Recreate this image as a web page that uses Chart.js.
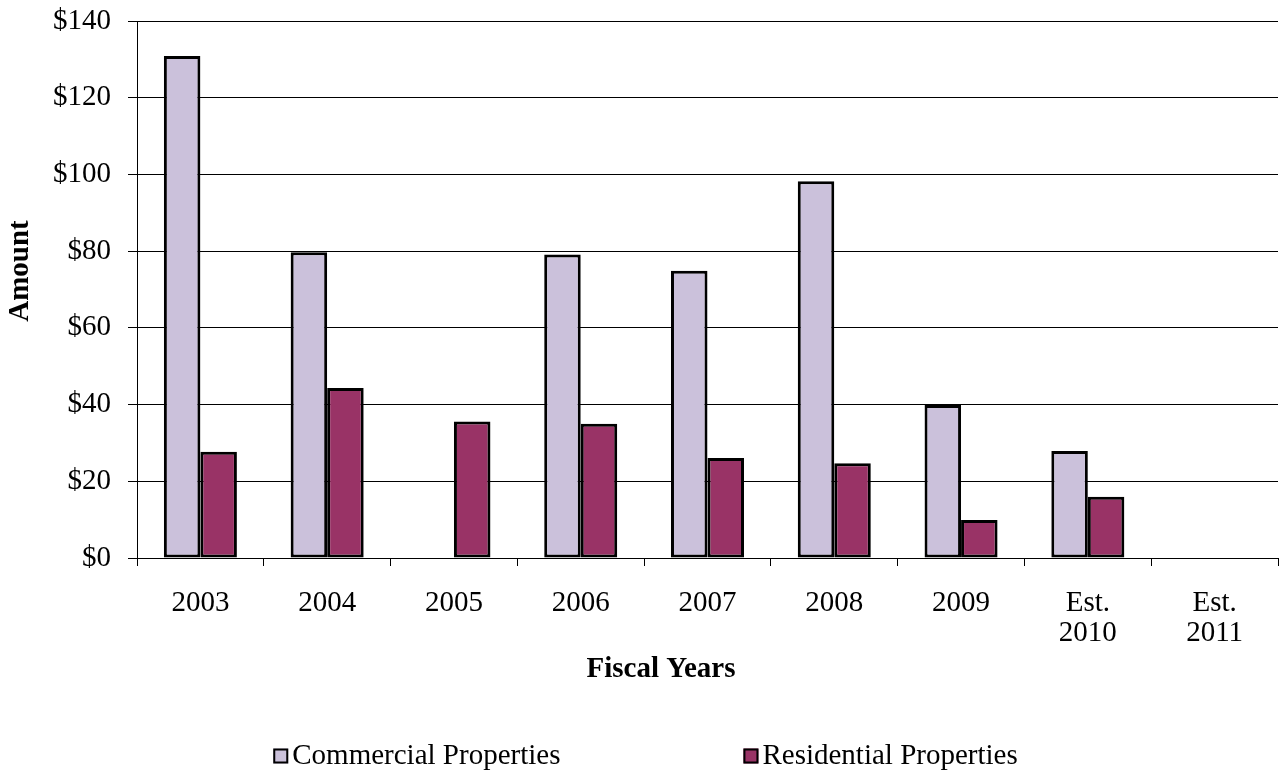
<!DOCTYPE html>
<html>
<head>
<meta charset="utf-8">
<script src="https://cdn.jsdelivr.net/npm/chart.js@4.4.1/dist/chart.umd.min.js"></script>
<style>
  html, body { margin: 0; padding: 0; background: #ffffff; }
  #wrap { width: 1280px; height: 773px; }
</style>
</head>
<body>
<div id="wrap"><canvas id="c" width="1280" height="773"></canvas></div>
<script>
// ---- data ----
const categories = ["2003", "2004", "2005", "2006", "2007", "2008", "2009", ["Est.", "2010"], ["Est.", "2011"]];
const commercial = [130.9, 79.7, 0, 79.1, 74.9, 98.2, 39.9, 27.9, 0];
const residential = [27.7, 44.3, 35.6, 35.0, 26.1, 24.7, 9.9, 16.0, 0];
const seriesNames = ["Commercial Properties", "Residential Properties"];
const yTicks = [0, 20, 40, 60, 80, 100, 120, 140];
const xTitle = "Fiscal Years";
const yTitle = "Amount";

const FONT = "'Liberation Serif', 'Times New Roman', serif";
const FS = 29;

const extraText = {
  id: 'extraText',
  afterDraw(chart) {
    const ctx = chart.ctx;
    ctx.save();
    ctx.fillStyle = '#000';
    // y title
    ctx.font = `bold ${FS}px ${FONT}`;
    ctx.textAlign = 'center';
    ctx.textBaseline = 'middle';
    ctx.save();
    ctx.translate(21, 271);
    ctx.rotate(-Math.PI / 2);
    ctx.fillText(yTitle, 0, 0);
    ctx.restore();
    // x title
    ctx.fillText(xTitle, 661, 670);
    // legend
    ctx.font = `${FS}px ${FONT}`;
    ctx.textAlign = 'left';
    const ds = chart.data.datasets;
    const box = 15, gapBT = 4, gapItems = 183, ly = 756;
    const widths = ds.map(d => box + gapBT + ctx.measureText(d.label).width);
    const total = widths.reduce((a, b) => a + b, 0) + gapItems * (ds.length - 1);
    let x = 645.5 - total / 2;
    ds.forEach((d, i) => {
      ctx.fillStyle = d.backgroundColor;
      ctx.fillRect(x, ly - box / 2, box, box);
      ctx.strokeStyle = '#000';
      ctx.lineWidth = 2;
      ctx.strokeRect(x + 1, ly - box / 2 + 1, box - 2, box - 2);
      ctx.fillStyle = '#000';
      ctx.fillText(d.label, x + box + gapBT, ly);
      x += widths[i] + gapItems;
    });
    ctx.restore();
  }
};

new Chart(document.getElementById('c'), {
  type: 'bar',
  data: {
    labels: categories,
    datasets: [
      { label: seriesNames[0], data: commercial, backgroundColor: '#CBC1DB', borderColor: '#000', borderWidth: 3, borderSkipped: false },
      { label: seriesNames[1], data: residential, backgroundColor: '#993366', borderColor: '#000', borderWidth: 3, borderSkipped: false }
    ]
  },
  options: {
    responsive: false,
    animation: false,
    devicePixelRatio: 1,
    categoryPercentage: 0.576,
    barPercentage: 1.0,
    layout: { padding: { top: 21, right: 2, bottom: 0, left: 0 } },
    plugins: { legend: { display: false }, tooltip: { enabled: false } },
    scales: {
      x: {
        afterFit(scale) { scale.height = 215; scale.paddingLeft = 0; scale.paddingRight = 0; },
        grid: { display: true, drawOnChartArea: false, drawTicks: true, tickLength: 8, color: '#000', lineWidth: 1, offset: true },
        border: { display: true, color: '#000', width: 1 },
        ticks: { color: '#000', font: { family: FONT, size: FS, lineHeight: 30 / FS }, padding: 22, maxRotation: 0, autoSkip: false }
      },
      y: {
        min: 0, max: 140,
        afterFit(scale) { scale.width = 137; scale.paddingTop = 0; scale.paddingBottom = 0; },
        afterBuildTicks(scale) { scale.ticks = yTicks.map(v => ({ value: v })); },
        grid: { color: '#000', lineWidth: 1, tickLength: 9, drawTicks: true },
        border: { display: true, color: '#000', width: 1 },
        ticks: { color: '#000', font: { family: FONT, size: FS }, padding: 17, callback: v => '$' + v }
      }
    }
  },
  plugins: [extraText]
});
</script>
</body>
</html>
